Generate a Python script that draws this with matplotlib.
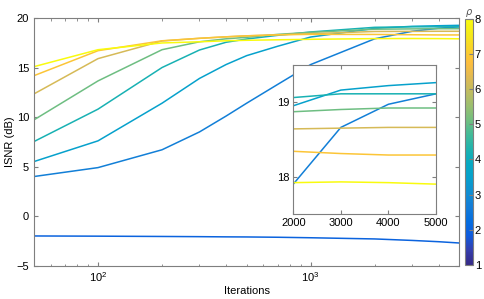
import numpy as np
import matplotlib as mpl
mpl.use('Agg')
import matplotlib.pyplot as plt
from matplotlib.colors import LinearSegmentedColormap, Normalize

plt.rcParams['font.family'] = ['Liberation Sans', 'DejaVu Sans']
plt.rcParams['font.size'] = 8

# data
iters = [50, 100, 200, 300, 400, 500, 700, 1000, 2000, 3000, 4000, 5000]
rhos = [2.0, 2.7, 3.5, 4.2, 5.1, 6.2, 6.9, 8.0]
isnr_r20 = [-2.0, -2.02, -2.05, -2.07, -2.09, -2.1, -2.13, -2.18, -2.3, -2.45, -2.58, -2.71]
isnr_r27 = [4.0, 4.9, 6.7, 8.5, 10.1, 11.4, 13.3, 15.3, 17.9, 18.66, 18.97, 19.11]
isnr_r35 = [5.51, 7.6, 11.4, 13.9, 15.3, 16.2, 17.15, 18.08, 18.95, 19.16, 19.22, 19.26]
isnr_r42 = [7.53, 10.8, 15.0, 16.77, 17.55, 17.88, 18.25, 18.59, 19.06, 19.11, 19.11, 19.11]
isnr_r51 = [9.72, 13.65, 16.8, 17.6, 17.9, 18.05, 18.35, 18.55, 18.87, 18.9, 18.92, 18.92]
isnr_r62 = [12.34, 15.9, 17.68, 17.95, 18.1, 18.2, 18.3, 18.42, 18.64, 18.65, 18.66, 18.66]
isnr_r69 = [14.18, 16.7, 17.7, 17.95, 18.1, 18.2, 18.3, 18.35, 18.34, 18.31, 18.29, 18.29]
isnr_r80 = [15.09, 16.8, 17.48, 17.6, 17.7, 17.75, 17.8, 17.85, 17.92, 17.93, 17.92, 17.90]
curves = [isnr_r20, isnr_r27, isnr_r35, isnr_r42, isnr_r51, isnr_r62, isnr_r69, isnr_r80]

# matlab parula (subsampled)
parula_pts = [
    (0.2081, 0.1663, 0.5292), (0.2081, 0.2386, 0.6771), (0.0591, 0.3598, 0.8683),
    (0.0165, 0.4266, 0.8786), (0.0723, 0.4887, 0.8467), (0.0641, 0.5570, 0.8240),
    (0.0239, 0.6287, 0.8038), (0.0267, 0.6642, 0.7607), (0.1133, 0.7015, 0.6859),
    (0.2586, 0.7317, 0.5954), (0.4420, 0.7481, 0.5033), (0.6099, 0.7473, 0.4337),
    (0.7525, 0.7384, 0.3768), (0.8824, 0.7274, 0.3217), (0.9938, 0.7455, 0.2403),
    (0.9789, 0.8271, 0.1633), (0.9598, 0.9218, 0.0948), (0.9763, 0.9831, 0.0538)]
parula = LinearSegmentedColormap.from_list('parula', parula_pts)
norm = Normalize(1, 8)

frame = '#7f7f7f'

def style(ax):
    for s in ax.spines.values():
        s.set_color(frame)
        s.set_linewidth(0.8)
    ax.tick_params(which='both', direction='in', top=True, right=True, color=frame)
    ax.tick_params(which='major', length=3)
    ax.tick_params(which='minor', length=1.8)

fig = plt.figure(figsize=(4.85, 2.99), dpi=100)
ax = fig.add_axes([0.0701, 0.1114, 0.8769, 0.8284])
for r, y in zip(rhos, curves):
    ax.plot(iters, y, color=parula(norm(r)), lw=1.1)
ax.set_xscale('log')
ax.set_xlim(50, 5000)
ax.set_ylim(-5, 20)
ax.set_yticks([-5, 0, 5, 10, 15, 20])
ax.set_yticklabels(['\u22125', '0', '5', '10', '15', '20'])
ax.set_xlabel('Iterations', labelpad=1)
ax.set_ylabel('ISNR (dB)', labelpad=1)
style(ax)

# zoomed inset
ins = fig.add_axes([0.6047, 0.2843, 0.2942, 0.4993])
for r, y in zip(rhos, curves):
    ins.plot(iters, y, color=parula(norm(r)), lw=1.1)
ins.set_xlim(2000, 5000)
ins.set_ylim(17.5, 19.5)
ins.set_xticks([2000, 3000, 4000, 5000])
ins.set_yticks([18, 19])
style(ins)
ins.tick_params(pad=3)

# colorbar
cax = fig.add_axes([0.9594, 0.1137, 0.0165, 0.8237])
sm = mpl.cm.ScalarMappable(norm=norm, cmap=parula)
cb = fig.colorbar(sm, cax=cax, ticks=range(1, 9))
cb.outline.set_edgecolor(frame)
cb.outline.set_linewidth(0.8)
cax.tick_params(direction='in', length=3, color=frame, pad=1)
cax.set_title(r'$\rho$', fontsize=7, color='#555555', pad=3)

plt.savefig('out.png', dpi=100)
